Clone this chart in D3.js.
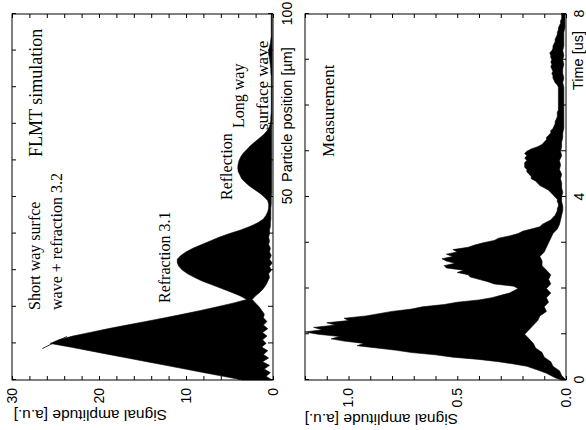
<!DOCTYPE html>
<html><head><meta charset="utf-8">
<script src="https://cdn.jsdelivr.net/npm/d3@7"></script>
<style>body{margin:0;background:#fff} svg{display:block}</style>
</head><body>
<svg id="c" width="586" height="430"></svg>
<script>
// ---------- DATA ----------
// FLMT simulation: envelope of the oscillating signal vs particle position (µm)
const simPos = d3.range(0, 101, 1);
const simUpper = [
  3.5, 5.7, 7.9, 10.1, 12.3, 14.5, 16.7, 18.9, 21.1, 23.3,
  25.6, 24.6, 23.0, 21.0, 19.0, 16.8, 14.6, 12.4, 10.3, 8.3,
  6.4, 4.6, 3.0, 3.8, 4.8, 5.9, 7.0, 8.1, 9.0, 9.8,
  10.4, 10.8, 11.0, 11.0, 10.6, 10.0, 9.2, 8.2, 7.2, 6.2,
  5.0, 3.7, 2.6, 1.7, 1.1, 0.8, 0.6, 0.5, 0.5, 0.6,
  1.0, 1.5, 2.1, 2.7, 3.2, 3.6, 3.8, 4.0, 4.05, 4.0,
  3.9, 3.7, 3.4, 3.0, 2.6, 2.1, 1.6, 1.1, 0.7, 0.45,
  0.3, 0.25, 0.25, 0.2, 0.2, 0.2, 0.2, 0.2, 0.2, 0.2,
  0.2, 0.2, 0.2, 0.2, 0.25, 0.25, 0.3, 0.35, 0.4, 0.5,
  0.5, 0.4, 0.3, 0.25, 0.2, 0.2, 0.2, 0.2, 0.2, 0.2,
  0.2
];
const simLower = [
  0.1, 0.8, 0.3, 1.0, 0.4, 1.2, 0.5, 1.1, 0.6, 1.3,
  0.8, 1.2, 0.7, 1.2, 0.6, 1.1, 0.7, 1.1, 1.0, 1.3,
  1.6, 2.0, 2.4, 2.0, 1.5, 1.1, 0.8, 0.6, 0.4, 0.5,
  0.2, 0.4, 0.1, 0.4, 0.2, 0.4, 0.3, 0.5, 0.4, 0.5,
  0.4, 0.4, 0.3, 0.3, 0.25, 0.25, 0.25, 0.25, 0.2, 0.2,
  0.2, 0.15, 0.15, 0.15, 0.15, 0.15, 0.15, 0.15, 0.15, 0.15,
  0.15, 0.15, 0.15, 0.15, 0.15, 0.15, 0.15, 0.15, 0.15, 0.15,
  0.15, 0.1, 0.1, 0.1, 0.1, 0.1, 0.1, 0.1, 0.1, 0.1,
  0.1, 0.1, 0.1, 0.1, 0.1, 0.1, 0.1, 0.1, 0.1, 0.1,
  0.1, 0.1, 0.1, 0.1, 0.1, 0.1, 0.1, 0.1, 0.1, 0.1,
  0.1
];
// Measurement: envelope of the measured signal vs time (µs)
const measTime = d3.range(0, 161).map(i => i * 0.05);
const measUpper = [
  0.02, 0.05, 0.07, 0.09, 0.12, 0.15, 0.18, 0.24, 0.31, 0.40, 0.52, 0.60, 0.71, 0.78, 0.87, 0.96, 0.93, 1.02, 1.08, 1.04,
  1.14, 1.20, 1.12, 1.16, 1.06, 1.10, 1.00, 1.02, 0.92, 0.86, 0.80, 0.71, 0.66, 0.56, 0.50, 0.40, 0.34, 0.30, 0.26, 0.24,
  0.22, 0.24, 0.33, 0.36, 0.40, 0.44, 0.45, 0.50, 0.47, 0.55, 0.56, 0.51, 0.55, 0.57, 0.52, 0.55, 0.50, 0.52, 0.45, 0.42,
  0.38, 0.33, 0.31, 0.26, 0.22, 0.20, 0.16, 0.12, 0.11, 0.09, 0.07, 0.06, 0.05, 0.045, 0.04, 0.04, 0.035, 0.035, 0.04, 0.04,
  0.05, 0.06, 0.07, 0.08, 0.10, 0.12, 0.13, 0.14, 0.16, 0.16, 0.17, 0.18, 0.18, 0.19, 0.19, 0.19, 0.18, 0.19, 0.18, 0.19,
  0.18, 0.16, 0.13, 0.11, 0.10, 0.09, 0.09, 0.08, 0.07, 0.07, 0.06, 0.055, 0.05, 0.05, 0.045, 0.04, 0.04, 0.04, 0.035, 0.035,
  0.035, 0.035, 0.035, 0.035, 0.035, 0.035, 0.035, 0.035, 0.035, 0.04, 0.05, 0.055, 0.06, 0.06, 0.065, 0.06, 0.065, 0.07, 0.065, 0.07,
  0.065, 0.07, 0.07, 0.075, 0.065, 0.06, 0.06, 0.055, 0.05, 0.05, 0.045, 0.04, 0.04, 0.035, 0.035, 0.03, 0.025, 0.025, 0.02, 0.02,
  0.02
];
const measLowerTime = d3.range(0, 81).map(i => i * 0.1);
const measLower = [
  0.0, 0.02, 0.03, 0.06, 0.07, 0.10, 0.11, 0.14, 0.15, 0.17,
  0.19, 0.17, 0.15, 0.13, 0.12, 0.09, 0.10, 0.08, 0.09, 0.07,
  0.09, 0.07, 0.08, 0.07, 0.09, 0.11, 0.11, 0.12, 0.10, 0.09,
  0.08, 0.07, 0.06, 0.04, 0.03, 0.025, 0.02, 0.015, 0.015, 0.02,
  0.02, 0.015, 0.02, 0.02, 0.025, 0.02, 0.03, 0.025, 0.03, 0.02,
  0.025, 0.02, 0.02, 0.015, 0.015, 0.01, 0.01, 0.01, 0.01, 0.01,
  0.01, 0.01, 0.01, 0.01, 0.01, 0.015, 0.01, 0.015, 0.015, 0.01,
  0.015, 0.01, 0.015, 0.01, 0.01, 0.01, 0.01, 0.005, 0.005, 0.005,
  0.005
];
const simAmpTicks = [0, 10, 20, 30];
const simPosTicks = [50, 100];
const measAmpTicks = [0.0, 0.5, 1.0];
const measTimeTicks = [0, 4, 8];

// ---------- DRAW ----------
const SANS = "'Liberation Sans', Arial, sans-serif";
const SERIF = "'Liberation Serif', 'Times New Roman', serif";
const svg = d3.select('#c');
// the whole figure is drawn upright in a 430 x 586 frame and rotated 90° counter-clockwise
const g = svg.append('g').attr('transform', 'translate(0,430) rotate(-90)');

function panel(o) {
  const x = d3.scaleLinear().domain(o.xDomain).range([50, 416]);
  const y = d3.scaleLinear().domain(o.yDomain).range([o.bottom, o.top]);
  const p = g.append('g');

  // signal: upper envelope forward, lower envelope back
  const pts = o.upX.map((v, i) => [v, o.up[i]])
    .concat(o.loX.map((v, i) => [v, o.lo[i]]).reverse());
  const line = d3.line().x(d => x(d[0])).y(d => y(d[1]));
  p.append('path').attr('d', line(pts) + 'Z')
    .attr('fill', '#000').attr('stroke', '#000').attr('stroke-width', 0.6);

  // ticks
  const styleAxis = sel => { sel.select('.domain').remove(); sel.selectAll('line').attr('stroke', '#000'); };
  p.append('g').attr('transform', 'translate(50,0)')
    .call(d3.axisLeft(y).tickValues(o.yMinor).tickSize(-4).tickFormat('')).call(styleAxis);
  p.append('g').attr('transform', 'translate(416,0)')
    .call(d3.axisRight(y).tickValues(o.yMinor).tickSize(-4).tickFormat('')).call(styleAxis);
  p.append('g').attr('transform', `translate(0,${o.bottom})`)
    .call(d3.axisBottom(x).tickValues(o.xMinor).tickSize(-5).tickFormat('')).call(styleAxis);
  p.append('g').attr('transform', `translate(0,${o.top})`)
    .call(d3.axisTop(x).tickValues(o.xMinor).tickSize(-4).tickFormat('')).call(styleAxis);

  // tick labels
  const yl = p.append('g').attr('transform', 'translate(50,0)')
    .call(d3.axisLeft(y).tickValues(o.yTicks).tickSize(0).tickPadding(8).tickFormat(o.yFmt));
  yl.select('.domain').remove();
  yl.attr('font-family', SANS).attr('font-size', 14);
  const xl = p.append('g').attr('transform', `translate(0,${o.bottom})`)
    .call(d3.axisBottom(x).tickValues(o.xTicks).tickSize(0).tickPadding(o.xPad).tickFormat(d3.format('d')));
  xl.select('.domain').remove();
  xl.attr('font-family', SANS).attr('font-size', 14);

  // frame
  p.append('rect').attr('x', 50).attr('y', o.top).attr('width', 366).attr('height', o.bottom - o.top)
    .attr('fill', 'none').attr('stroke', '#000').attr('stroke-width', 1);

  // axis titles
  p.append('text').attr('transform', `translate(${o.yTitleX},${o.yTitleStart}) rotate(-90)`)
    .attr('font-family', SANS).attr('font-size', 15.5).text('Signal amplitude [a.u.]');
  p.append('text').attr('x', o.xTitleX).attr('y', o.xTitleY)
    .attr('font-family', SANS).attr('font-size', 14.5).text(o.xTitle);
  return { x, y, p };
}

const simPanel = panel({
  xDomain: [0, 100], yDomain: [0, 30], top: 12, bottom: 273,
  upX: simPos, up: simUpper, loX: simPos, lo: simLower,
  yMinor: d3.range(0, 31, 2), xMinor: d3.range(0, 101, 10),
  yTicks: simAmpTicks, xTicks: simPosTicks, yFmt: d3.format('d'), xPad: 9,
  yTitleX: 20, yTitleStart: 167, xTitle: 'Particle position [µm]', xTitleX: 248, xTitleY: 292
});
const measPanel = panel({
  xDomain: [0, 8], yDomain: [0, 1.2], top: 305, bottom: 566,
  upX: measTime, up: measUpper, loX: measLowerTime, lo: measLower,
  yMinor: d3.range(0, 13).map(i => i / 10), xMinor: d3.range(0, 9, 1),
  yTicks: measAmpTicks, xTicks: measTimeTicks, yFmt: d3.format('.1f'), xPad: 8,
  yTitleX: 16, yTitleStart: 458, xTitle: 'Time [us]', xTitleX: 340, xTitleY: 583
});

// annotations
const ann = [
  { t: 'FLMT simulation', x: 273, y: 42, s: 18 },
  { t: 'Short way surfce', x: 120, y: 40, s: 16 },
  { t: 'wave + refraction 3.2', x: 120, y: 62, s: 16 },
  { t: 'Refraction 3.1', x: 127, y: 170, s: 16 },
  { t: 'Reflection', x: 230, y: 232, s: 16 },
  { t: 'Long way', x: 302, y: 244, s: 16 },
  { t: 'surface wave', x: 300, y: 268, s: 17 },
  { t: 'Measurement', x: 273, y: 334, s: 17 }
];
g.selectAll('text.ann').data(ann).join('text').attr('class', 'ann')
  .attr('x', d => d.x).attr('y', d => d.y).attr('font-family', SERIF).attr('font-size', d => d.s)
  .text(d => d.t);
// leader line from label to first peak
g.append('line').attr('x1', simPanel.x(8.6)).attr('y1', simPanel.y(26.5)).attr('x2', simPanel.x(11.9)).attr('y2', simPanel.y(23.7))
  .attr('stroke', '#000').attr('stroke-width', 0.8);
</script>
</body></html>
